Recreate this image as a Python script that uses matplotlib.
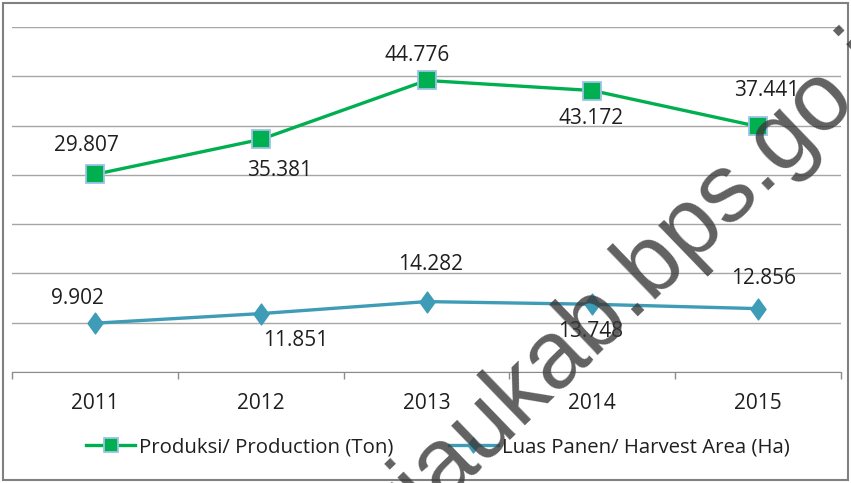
import matplotlib.pyplot as plt
from matplotlib.patches import Rectangle
import numpy as np

years = ["2011", "2012", "2013", "2014", "2015"]
produksi = [29.807, 35.381, 44.776, 43.172, 37.441]
luas_panen = [9.902, 11.851, 14.282, 13.748, 12.856]
produksi_labels = ["29.807", "35.381", "44.776", "43.172", "37.441"]
luas_labels = ["9.902", "11.851", "14.282", "13.748", "12.856"]

# label offsets in pixels (hand placed like in the excel chart)
off_prod = [(-8, 29), (19, -31), (-9, 25), (-1, -28), (9, 36)]
off_luas = [(-17, 25), (35, -27), (4, 37), (-2, -27), (5, 30)]

plt.rcParams['font.family'] = ['Open Sans', 'DejaVu Sans']
W, H = 851, 483
fig = plt.figure(figsize=(W / 100, H / 100), dpi=100)
ax = fig.add_axes([12 / W, 1 - 372 / H, (841 - 12) / W, (372 - 27) / H])
ax2 = ax.twinx()

x = np.arange(len(years))
green = '#00B050'
teal = '#3E9CB6'
txt = '#1f1f1f'

# harvest area on the base axis (0-70, gridlines every 10)
diamond = [(-0.72, 0), (0, 1), (0.72, 0), (0, -1), (-0.72, 0)]
l2, = ax.plot(x, luas_panen, color=teal, lw=2.4, marker=diamond, ms=15,
              mfc=teal, mec=teal, zorder=3, label='Luas Panen/ Harvest Area (Ha)')
ax.set_ylim(0, 70)
ax.set_yticks(np.arange(0, 71, 10))
ax.yaxis.grid(True, color='#a6a6a6', lw=1)
ax.set_axisbelow(True)
ax.set_xlim(-0.5, len(years) - 0.5)
ax.set_xticks(x)
ax.set_xticklabels(years, fontsize=15, color=txt)
ax.set_xticks(np.arange(-0.5, len(years)), minor=True)
ax.tick_params(axis='x', which='major', length=0, pad=15)
ax.tick_params(axis='x', which='minor', length=5, color='#8c8c8c', width=1)
ax.tick_params(axis='y', left=False, labelleft=False)
for s in ['top', 'left', 'right']:
    ax.spines[s].set_visible(False)
ax.spines['bottom'].set_color('#8c8c8c')

# production on the second axis
l1, = ax2.plot(x, produksi, color=green, lw=2.4, marker='s', ms=13.5,
               mfc=green, mec='#9DC3E6', mew=1.3, zorder=4,
               label='Produksi/ Production (Ton)')
ax2.set_ylim(-1.7, 53.3)
ax2.axis('off')

for i in range(len(years)):
    ax2.annotate(produksi_labels[i], (x[i], produksi[i]), xytext=off_prod[i],
                 textcoords='offset pixels', ha='center', va='center',
                 fontsize=15, color=txt)
    ax.annotate(luas_labels[i], (x[i], luas_panen[i]), xytext=off_luas[i],
                textcoords='offset pixels', ha='center', va='center',
                fontsize=15, color=txt)

leg = fig.legend(handles=[l1, l2], loc='center', bbox_to_anchor=(438 / W, 1 - 447 / H),
                 ncol=2, frameon=False, fontsize=14.7, handlelength=2.4,
                 handletextpad=0.2, columnspacing=2.7, markerscale=0.72)
for t in leg.get_texts():
    t.set_color(txt)

# outer frame
fig.patches.append(Rectangle((3 / W, 3 / H), 1 - 6 / W, 1 - 6 / H, transform=fig.transFigure,
                             fill=False, ec='#808080', lw=1.5))

# watermark
fig.text(405 / W, 1 - 536 / H, 'riaukab.bps.go.id', rotation=44, rotation_mode='anchor',
         ha='left', va='baseline', fontsize=69, family='Liberation Sans',
         color='#3a3a3a', alpha=0.8, zorder=10)

fig.savefig('out.png', dpi=100)
